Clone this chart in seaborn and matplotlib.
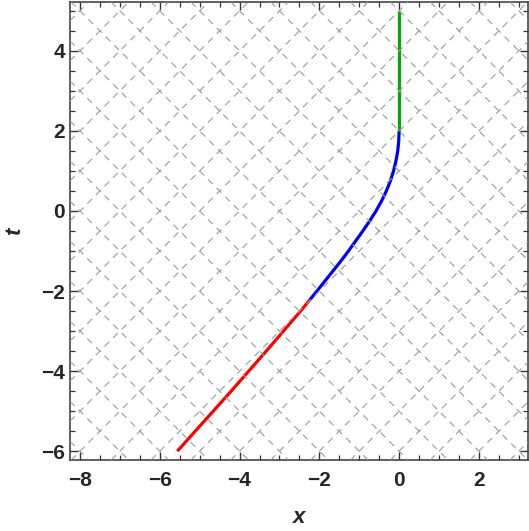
import matplotlib
matplotlib.use("Agg")
import matplotlib.pyplot as plt
import seaborn as sns
import pandas as pd
from matplotlib.ticker import MultipleLocator

# --- data ---
red_t = [-6.00, -5.50, -5.00, -4.50, -4.00, -3.50, -3.00, -2.50, -2.22]
red_x = [-5.56, -5.11, -4.66, -4.21, -3.77, -3.33, -2.90, -2.47, -2.24]

blue_t = [-2.22, -2.00, -1.75, -1.50, -1.25, -1.00, -0.75, -0.50, -0.25,
          0.00, 0.25, 0.50, 0.75, 1.00, 1.25, 1.50, 1.75, 2.00]
blue_x = [-2.24, -2.06, -1.86, -1.66, -1.46, -1.27, -1.09, -0.91, -0.74,
          -0.58, -0.44, -0.32, -0.22, -0.14, -0.08, -0.035, -0.01, 0.0]

green_x = [0.0, 0.0]
green_t = [2.0, 5.0]

cone_offsets = list(range(-16, 17))  # light-cone lines x +/- t = k

x_ticks = [-8, -6, -4, -2, 0, 2]
t_ticks = [-6, -4, -2, 0, 2, 4]

sns.set_style("white")
plt.rcParams["font.family"] = ["Liberation Sans", "DejaVu Sans"]

fig = plt.figure(figsize=(5.29, 5.31), dpi=100)
ax = fig.add_axes([70 / 529, (531 - 460) / 531, 458 / 529, 458 / 531])

xlim = (-8.25, 3.23)
tlim = (-6.22, 5.22)

segs = [
    (red_x, red_t, "#ff0000"),
    (blue_x, blue_t, "#0000ff"),
    (green_x, green_t, "#00aa00"),
]
for xs, ts, c in segs:
    df = pd.DataFrame({"x": xs, "t": ts})
    sns.lineplot(data=df, x="x", y="t", sort=False, estimator=None, color=c,
                 lw=2.3, ax=ax, zorder=2, solid_capstyle="butt",
                 solid_joinstyle="round")

# dashed light-cone grid (drawn over the world line)
for k in cone_offsets:
    ax.axline((k, 0), slope=1, color="#9a9a9a", lw=0.8, ls=(0, (6, 5)), zorder=3)
    ax.axline((k, 0), slope=-1, color="#9a9a9a", lw=0.8, ls=(0, (6, 5)), zorder=3)

ax.set_xlim(*xlim)
ax.set_ylim(*tlim)
ax.set_xticks(x_ticks)
ax.set_yticks(t_ticks)
ax.set_xticklabels([str(v).replace("-", "\u2212") for v in x_ticks],
                   fontweight="bold", fontsize=15)
ax.set_yticklabels([str(v).replace("-", "\u2212") for v in t_ticks],
                   fontweight="bold", fontsize=15)
ax.xaxis.set_minor_locator(MultipleLocator(0.5))
ax.yaxis.set_minor_locator(MultipleLocator(0.5))

ax.tick_params(which="both", direction="in", top=True, right=True,
               bottom=True, left=True, color="#333333")
ax.tick_params(which="major", length=6, width=1.0)
ax.tick_params(which="minor", length=3.5, width=0.9)
ax.tick_params(axis="x", which="major", pad=8)
ax.tick_params(axis="y", which="major", pad=3.5)

for sp in ax.spines.values():
    sp.set_visible(True)
    sp.set_color("#444444")
    sp.set_linewidth(1.2)

ax.set_xlabel("x", fontsize=16, fontweight="bold", fontstyle="italic", labelpad=12)
ax.set_ylabel("t", fontsize=16, fontweight="bold", fontstyle="italic", labelpad=12)

fig.savefig("out.png", dpi=100)
